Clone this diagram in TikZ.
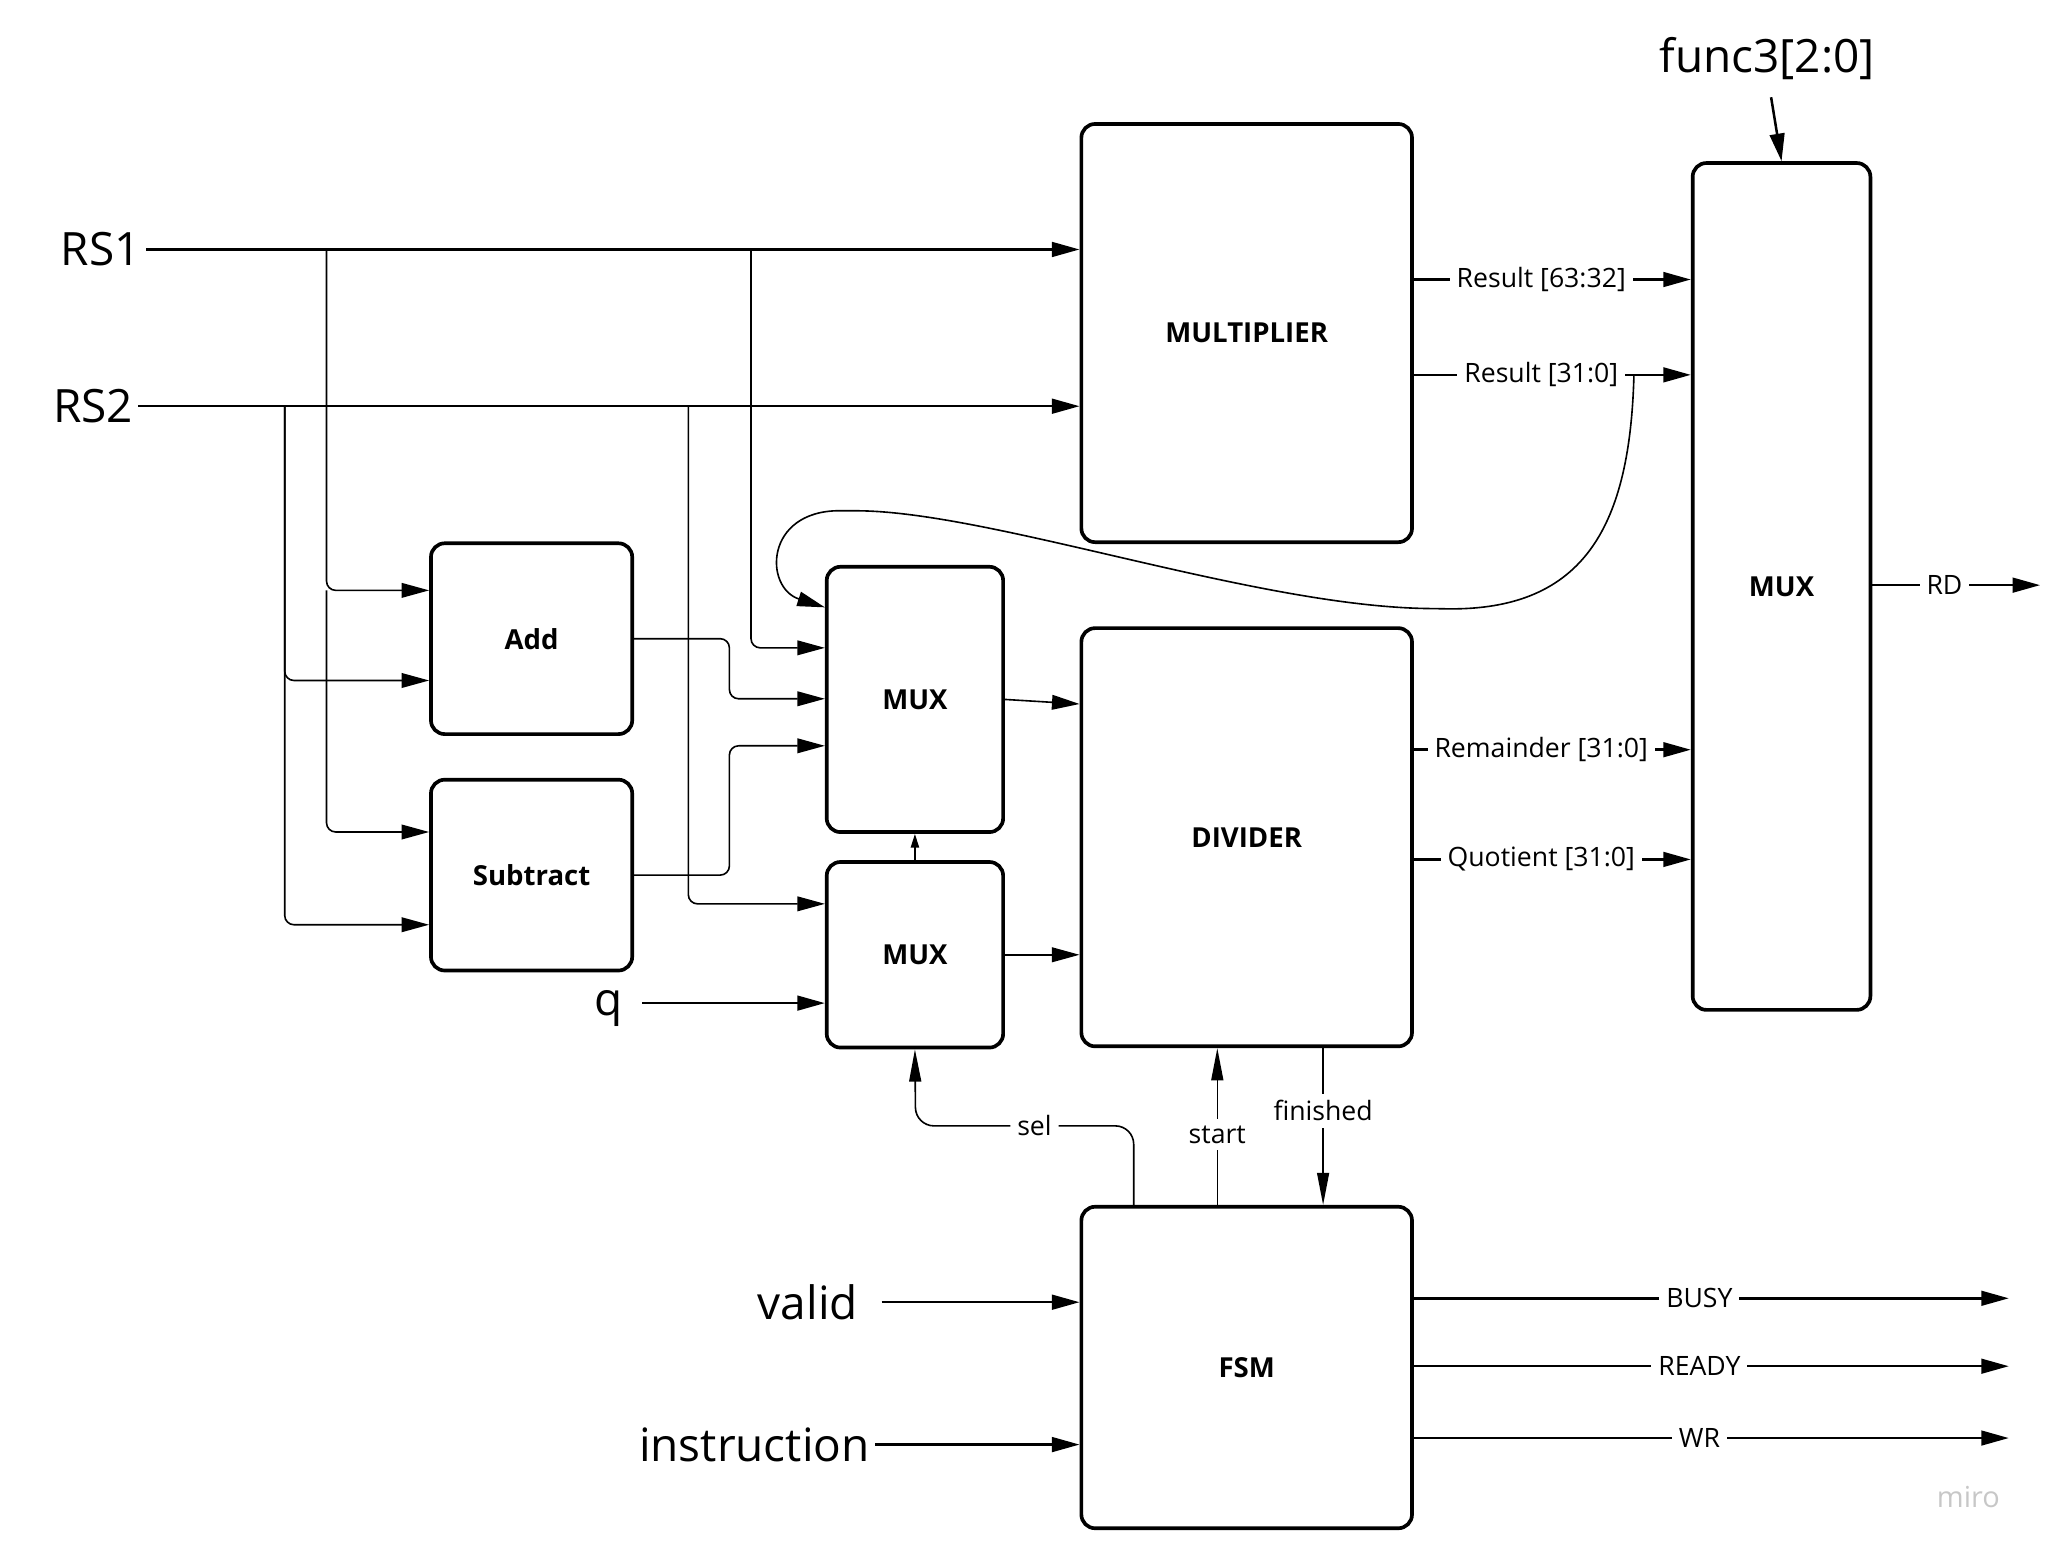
\documentclass[tikz,border=0pt]{standalone}
\usepackage{fontspec}
\setmainfont{Open Sans}
\usetikzlibrary{arrows.meta, positioning}

\tikzset{
	block/.style={draw, line width=0.8pt, rounded corners=3pt, inner sep=0pt,
		font=\fontsize{6}{7}\selectfont\bfseries},
	sig/.style={font=\fontsize{10}{12}\selectfont, inner sep=1pt},
	lbl/.style={font=\fontsize{5.8}{7}\selectfont, fill=white, inner sep=1.5pt},
	bus/.style={line width=0.55pt, -{Triangle[length=6pt,width=3.2pt]}},
	wire/.style={line width=0.35pt, rounded corners=2pt, -{Triangle[length=6pt,width=3.2pt]}},
	ctrl/.style={line width=0.35pt, -{Triangle[length=7pt,width=2.6pt]}},
}

\begin{document}
\begin{tikzpicture}[x=0.01cm, y=-0.01cm]
	\useasboundingbox (0,0) rectangle (1568,1190.5);

	% Blocks
	\node[block, minimum width=2.53cm, minimum height=3.2cm] (mult) at (954.5,255) {MULTIPLIER};
	\node[block, minimum width=2.53cm, minimum height=3.2cm] (div) at (954.5,641) {DIVIDER};
	\node[block, minimum width=2.53cm, minimum height=2.46cm] (fsm) at (954.5,1047) {FSM};
	\node[block, minimum width=1.36cm, minimum height=6.48cm] (rmux) at (1364,449) {MUX};
	\node[block, minimum width=1.54cm, minimum height=1.46cm] (add) at (407,489) {Add};
	\node[block, minimum width=1.54cm, minimum height=1.46cm] (sub) at (407,670) {Subtract};
	\node[block, minimum width=1.35cm, minimum height=2.03cm] (muxa) at (700.5,535.5) {MUX};
	\node[block, minimum width=1.35cm, minimum height=1.42cm] (muxb) at (700.5,731) {MUX};

	% Inputs
	\node[sig, anchor=east] (rs1) at (112,191) {RS1};
	\node[sig, anchor=east] (rs2) at (106,311) {RS2};
	\node[sig] (func3) at (1353,45) {func3[2:0]};
	\node[sig, anchor=east, text depth=0pt] (q) at (481,768) {q};
	\node[sig, anchor=east] (valid) at (661,997) {valid};
	\node[sig, anchor=east] (instr) at (670,1106) {instruction};
	\node[font=\fontsize{6.3}{7}\selectfont, text=black!22] (miro) at (1507,1146) {miro};

	% Taps and free ends
	\coordinate (rs1a) at (250,191);
	\coordinate (rs1b) at (575,191);
	\coordinate (rs2a) at (218,311);
	\coordinate (rs2b) at (527,311);
	\coordinate (rlo) at (1251,287);
	\coordinate (rdout) at (1562,448);
	\coordinate (busyout) at (1538,994);
	\coordinate (readyout) at (1538,1046);
	\coordinate (wrout) at (1538,1101);

	% Operands
	\draw[bus] (rs1.east) -- (rs1.east -| mult.west);
	\draw[bus] (rs2.east) -- (rs2.east -| mult.west);
	\draw[wire] (rs1a) |- (add.west |- 0,452);
	\draw[wire] (rs1a |- 0,452) |- (sub.west |- 0,637);
	\draw[wire] (rs2a) |- (add.west |- 0,521);
	\draw[wire] (rs2a) |- (sub.west |- 0,708);
	\draw[wire] (rs1b) |- (muxa.west |- 0,496);
	\draw[wire] (rs2b) |- (muxb.west |- 0,692);
	\draw[wire] (add.east) -- ++(73,0) |- (muxa.west |- 0,535);
	\draw[wire] (sub.east) -- ++(73,0) |- (muxa.west |- 0,571);
	\draw[bus, shorten <=3pt] (q.east) -- (q.east -| muxb.west);

	% Into the divider
	\draw[wire] (muxa.east) -- (div.west |- 0,539);
	\draw[wire] (muxb.east) -- (muxb.east -| div.west);
	\draw[line width=0.35pt, -{Triangle[length=3pt,width=1.8pt]}] (muxb.north) -- (muxa.south);

	% Results
	\draw[bus] (mult.east |- 0,214) -- node[lbl, pos=0.46] {Result [63:32]} (rmux.west |- 0,214);
	\draw[bus] (mult.east |- 0,287) -- node[lbl, pos=0.46] {Result [31:0]} (rmux.west |- 0,287);
	\draw[bus] (div.east |- 0,574) -- node[lbl, pos=0.46] {Remainder [31:0]} (rmux.west |- 0,574);
	\draw[bus] (div.east |- 0,658) -- node[lbl, pos=0.46] {Quotient [31:0]} (rmux.west |- 0,658);
	\draw[wire] (rlo) .. controls (1248,400) and (1215,468) .. (1100,466)
		.. controls (960,464) and (760,392) .. (650,391)
		.. controls (585,391) and (585,450) .. (muxa.west |- 0,465);
	\draw[bus] ([shift={(3,9)}]func3.south) -- (rmux.north);
	\draw[bus] (rmux.east |- rdout) -- node[lbl, pos=0.43] {RD} (rdout);

	% Control
	\draw[ctrl, rounded corners=4pt] (fsm.north -| 868,0) -- (868,862) -- node[lbl, pos=0.455] {sel} (701,862) -- (muxb.south);
	\draw[ctrl] (fsm.north -| 932,0) -- node[lbl, pos=0.45] {start} (div.south -| 932,0);
	\draw[ctrl] (div.south -| 1013,0) -- node[lbl, pos=0.4] {finished} (fsm.north -| 1013,0);
	\draw[bus, shorten <=4pt] (valid.east) -- (valid.east -| fsm.west);
	\draw[bus] (instr.east) -- (instr.east -| fsm.west);
	\draw[bus] (fsm.east |- busyout) -- node[lbl, pos=0.48] {BUSY} (busyout);
	\draw[bus] (fsm.east |- readyout) -- node[lbl, pos=0.48] {READY} (readyout);
	\draw[bus] (fsm.east |- wrout) -- node[lbl, pos=0.48] {WR} (wrout);

\end{tikzpicture}
\end{document}
